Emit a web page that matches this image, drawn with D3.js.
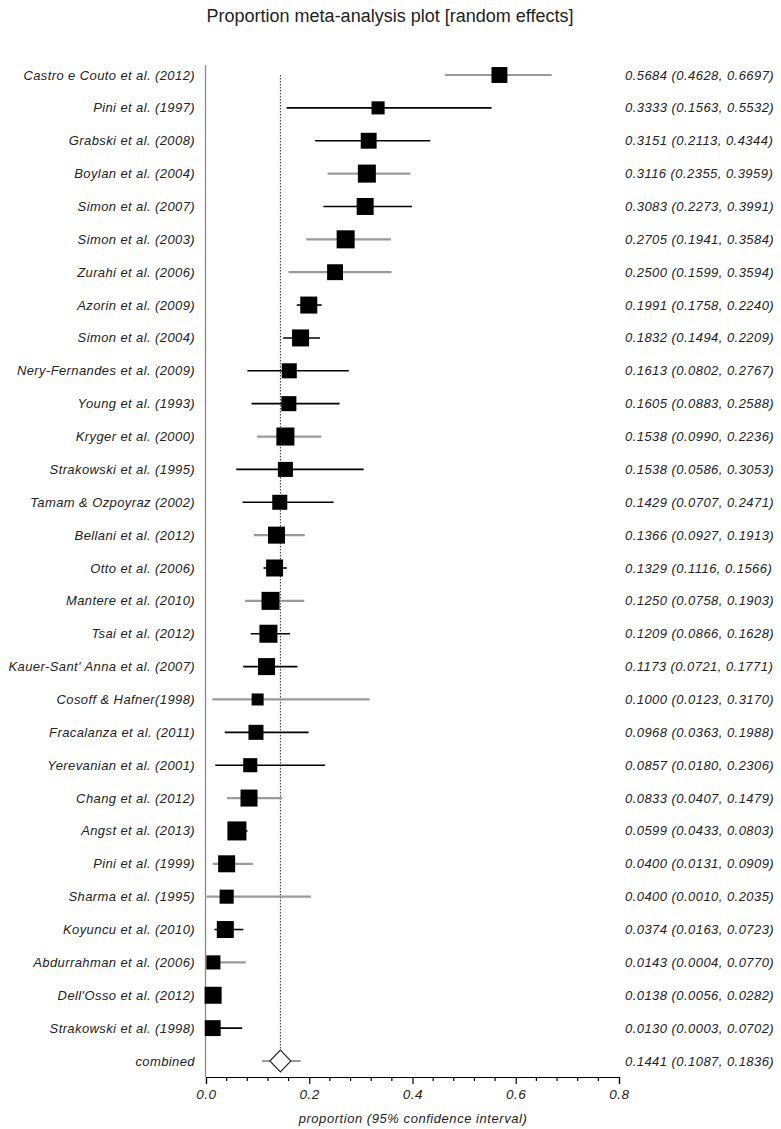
<!DOCTYPE html>
<html>
<head>
<meta charset="utf-8">
<script src="https://cdn.jsdelivr.net/npm/d3@7"></script>
<style>
  html, body { margin: 0; padding: 0; background: #fff; }
  svg { display: block; font-family: "Liberation Sans", Arial, sans-serif; }
</style>
</head>
<body>
<svg id="chart" width="781" height="1129"></svg>
<script>
// ---- data ----
const studies = [
  "Castro e Couto et al. (2012)", "Pini et al. (1997)", "Grabski et al. (2008)",
  "Boylan et al. (2004)", "Simon et al. (2007)", "Simon et al. (2003)",
  "Zurahi et al. (2006)", "Azorin et al. (2009)", "Simon et al. (2004)",
  "Nery-Fernandes et al. (2009)", "Young et al. (1993)", "Kryger et al. (2000)",
  "Strakowski et al. (1995)", "Tamam & Ozpoyraz (2002)", "Bellani et al. (2012)",
  "Otto et al. (2006)", "Mantere et al. (2010)", "Tsai et al. (2012)",
  "Kauer-Sant' Anna et al. (2007)", "Cosoff & Hafner(1998)", "Fracalanza et al. (2011)",
  "Yerevanian et al. (2001)", "Chang et al. (2012)", "Angst et al. (2013)",
  "Pini et al. (1999)", "Sharma et al. (1995)", "Koyuncu et al. (2010)",
  "Abdurrahman et al. (2006)", "Dell'Osso et al. (2012)", "Strakowski et al. (1998)"
];
const proportion = [0.5684,0.3333,0.3151,0.3116,0.3083,0.2705,0.2500,0.1991,0.1832,0.1613,
  0.1605,0.1538,0.1538,0.1429,0.1366,0.1329,0.1250,0.1209,0.1173,0.1000,
  0.0968,0.0857,0.0833,0.0599,0.0400,0.0400,0.0374,0.0143,0.0138,0.0130];
const lower = [0.4628,0.1563,0.2113,0.2355,0.2273,0.1941,0.1599,0.1758,0.1494,0.0802,
  0.0883,0.0990,0.0586,0.0707,0.0927,0.1116,0.0758,0.0866,0.0721,0.0123,
  0.0363,0.0180,0.0407,0.0433,0.0131,0.0010,0.0163,0.0004,0.0056,0.0003];
const upper = [0.6697,0.5532,0.4344,0.3959,0.3991,0.3584,0.3594,0.2240,0.2209,0.2767,
  0.2588,0.2236,0.3053,0.2471,0.1913,0.1566,0.1903,0.1628,0.1771,0.3170,
  0.1988,0.2306,0.1479,0.0803,0.0909,0.2035,0.0723,0.0770,0.0282,0.0702];
// relative weights (%), estimated from square areas
const weight = [2.8,1.9,2.8,3.6,3.2,3.6,2.8,3.2,3.2,2.5,
  2.5,3.6,2.5,2.5,3.2,3.2,3.6,3.6,3.2,1.6,
  2.5,2.2,3.2,4.0,3.2,2.2,3.2,2.2,3.2,2.8];
// line tone group as drawn in the reference (a = grey, b = black)
const tone = ["a","b","b","a","b","a","a","b","b","b",
  "b","a","b","b","a","b","a","b","b","a",
  "b","b","a","b","a","a","b","a","a","b"];
const combined = { label: "combined", p: 0.1441, lo: 0.1087, hi: 0.1836 };
const xTicks = [0, 0.2, 0.4, 0.6, 0.8];
const title = "Proportion meta-analysis plot [random effects]";
const xTitle = "proportion (95% confidence interval)";

// ---- layout ----
const svg = d3.select("#chart");
const left = 206, right = 619;
const x = d3.scaleLinear().domain([0, 0.8]).range([left, right]);
const rows = studies.concat([combined.label]);
const y = d3.scalePoint().domain(rows).range([75, 1061]);
const side = d3.scaleSqrt().domain([0, 4]).range([0, 19]);
const toneColor = d3.scaleOrdinal().domain(["a","b"]).range(["#9a9a9a","#000"]);
const toneWidth = d3.scaleOrdinal().domain(["a","b"]).range([2.2, 1.6]);
const fmt = d3.format(".4f");
const axisY = 1077;

const data = studies.map((s, i) => ({ s, p: proportion[i], lo: lower[i], hi: upper[i], w: weight[i], t: tone[i] }));

// title
svg.append("text").attr("x", 390).attr("y", 22).attr("text-anchor", "middle")
  .attr("font-size", 18).attr("fill", "#222").text(title);

// left vertical line
svg.append("line").attr("x1", left - 0.5).attr("x2", left - 0.5).attr("y1", 65).attr("y2", axisY)
  .attr("stroke", "#8a8a8a").attr("stroke-width", 1.3);

// dotted line at combined estimate
svg.append("line").attr("x1", x(combined.p)).attr("x2", x(combined.p))
  .attr("y1", 75).attr("y2", y(combined.label) - 11)
  .attr("stroke", "#333").attr("stroke-width", 1).attr("stroke-dasharray", "1.5,1.5");

// CI lines
svg.append("g").selectAll("line").data(data).join("line")
  .attr("x1", d => x(d.lo)).attr("x2", d => x(d.hi))
  .attr("y1", d => y(d.s)).attr("y2", d => y(d.s))
  .attr("stroke", d => toneColor(d.t)).attr("stroke-width", d => toneWidth(d.t));

// squares
svg.append("g").selectAll("rect").data(data).join("rect")
  .attr("x", d => x(d.p) - side(d.w) / 2).attr("y", d => y(d.s) - side(d.w) / 2)
  .attr("width", d => side(d.w)).attr("height", d => side(d.w))
  .attr("fill", "#000");

// combined
const cy = y(combined.label);
svg.append("line").attr("x1", x(combined.lo)).attr("x2", x(combined.hi))
  .attr("y1", cy).attr("y2", cy).attr("stroke", "#9a9a9a").attr("stroke-width", 2.2);
const cx = x(combined.p);
svg.append("path")
  .attr("d", `M${cx - 10.5},${cy} L${cx},${cy - 11} L${cx + 10.5},${cy} L${cx},${cy + 11} Z`)
  .attr("fill", "#fff").attr("stroke", "#222").attr("stroke-width", 1.1);

// labels left
svg.append("g").selectAll("text").data(rows).join("text")
  .attr("x", 195).attr("y", d => y(d) + 4.5).attr("text-anchor", "end")
  .attr("font-size", 13).attr("letter-spacing", 0.4).attr("font-style", "italic").attr("fill", "#222")
  .text(d => d);

// labels right
const rightText = data.map(d => ({ s: d.s, txt: `${fmt(d.p)} (${fmt(d.lo)}, ${fmt(d.hi)})` }))
  .concat([{ s: combined.label, txt: `${fmt(combined.p)} (${fmt(combined.lo)}, ${fmt(combined.hi)})` }]);
svg.append("g").selectAll("text").data(rightText).join("text")
  .attr("x", 625).attr("y", d => y(d.s) + 4.5).attr("text-anchor", "start")
  .attr("font-size", 13).attr("letter-spacing", 0.45).attr("font-style", "italic").attr("fill", "#222")
  .text(d => d.txt);

// x axis
const axis = d3.axisBottom(x).tickValues(xTicks).tickFormat(d3.format(".1f")).tickSize(7).tickPadding(5);
const ag = svg.append("g").attr("transform", `translate(0,${axisY})`).call(axis);
ag.select(".domain").attr("stroke", "#000").attr("stroke-width", 1.2);
ag.selectAll(".tick line").attr("stroke", "#000").attr("stroke-width", 1.2);
ag.selectAll(".tick text").attr("font-size", 13.5).attr("letter-spacing", 0.5).attr("font-style", "italic")
  .attr("fill", "#222").attr("font-family", "'Liberation Sans', Arial, sans-serif");
const minor = d3.range(0, 0.8001, 0.04).filter(v => !xTicks.some(t => Math.abs(t - v) < 1e-6));
svg.append("g").selectAll("line").data(minor).join("line")
  .attr("x1", d => x(d)).attr("x2", d => x(d))
  .attr("y1", axisY).attr("y2", axisY + 4)
  .attr("stroke", "#000").attr("stroke-width", 1.2);

svg.append("text").attr("x", 413).attr("y", 1123).attr("text-anchor", "middle")
  .attr("font-size", 13).attr("letter-spacing", 0.55).attr("font-style", "italic").attr("fill", "#222").text(xTitle);
</script>
</body>
</html>
